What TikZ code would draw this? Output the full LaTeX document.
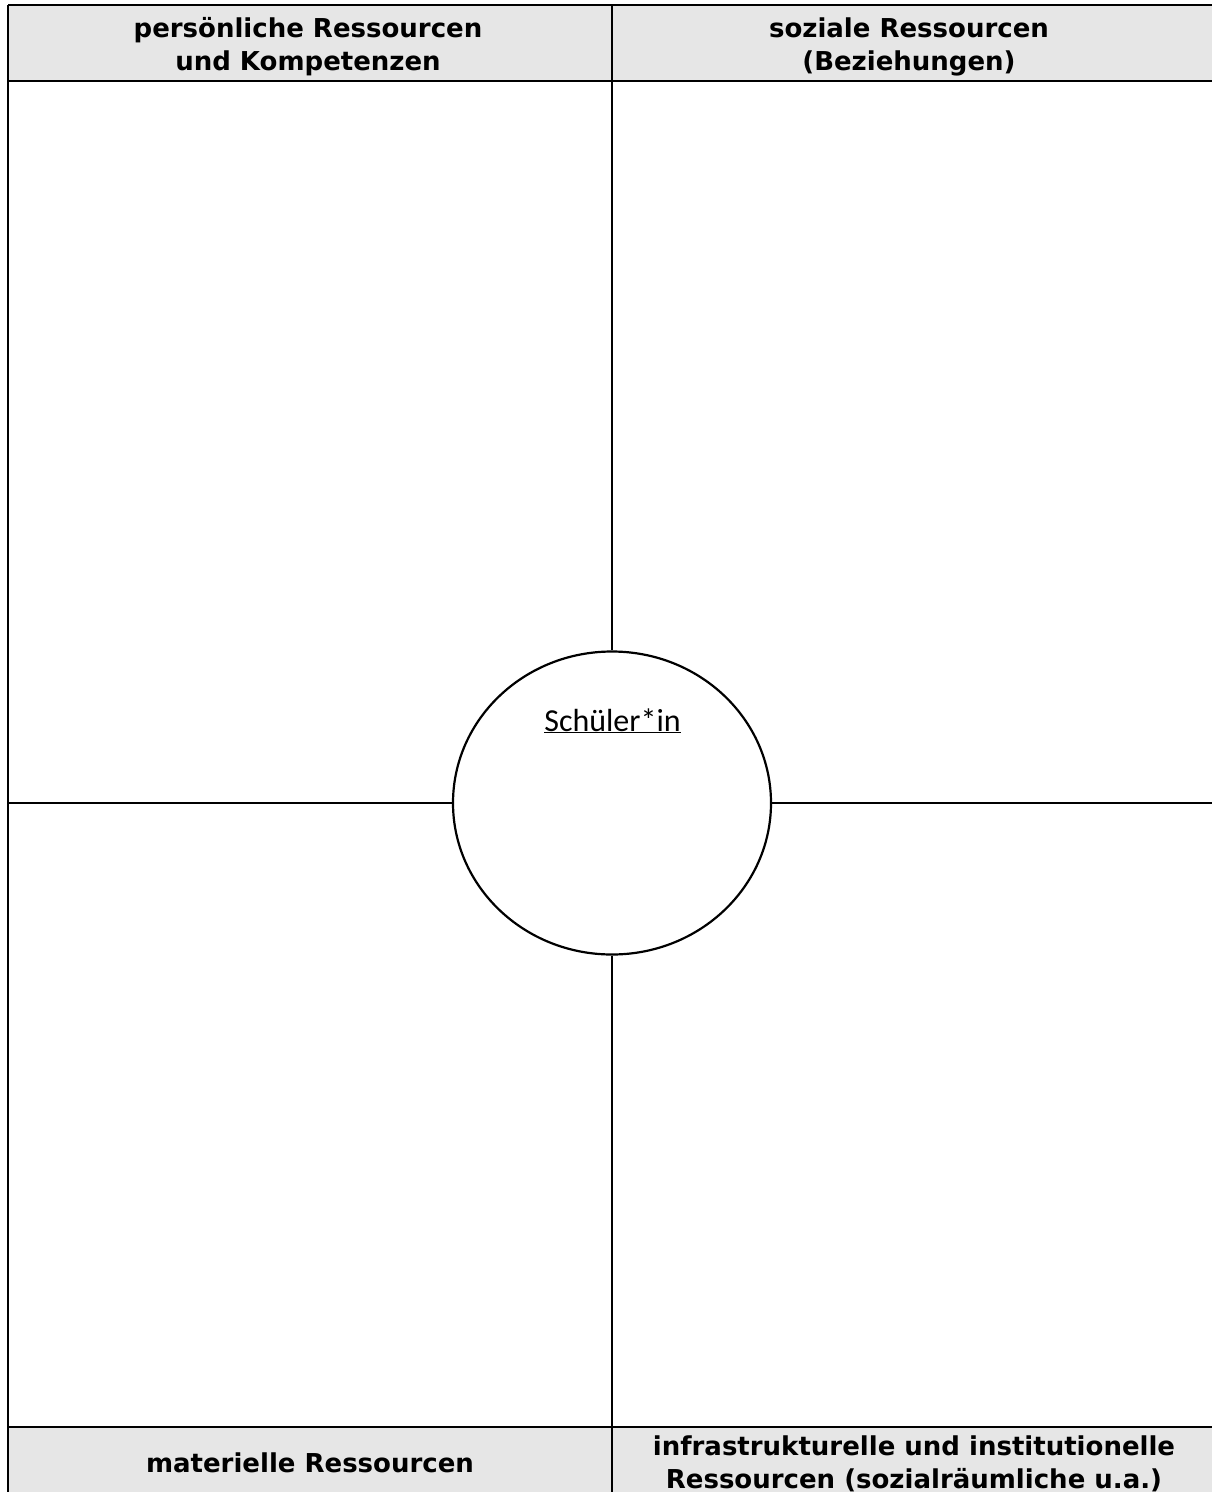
\documentclass[tikz,border=0pt]{standalone}
\usepackage{fontspec}
\setmainfont{DejaVu Sans}
\newfontfamily\calibfont{Carlito}
\usetikzlibrary{shapes.geometric}
\definecolor{hdrgray}{RGB}{230,230,230}
\begin{document}
\begin{tikzpicture}[x=1pt,y=-1pt,
  rule/.style={line width=2.2pt, black},
  headtext/.style={font=\fontsize{26}{33}\selectfont\bfseries, align=center, inner sep=0pt},
  centre/.style={ellipse, draw, line width=2.2pt, fill=white, minimum width=318pt, minimum height=303pt, inner sep=0pt},
]
\useasboundingbox (0,0) rectangle (1212,1492);
% header backgrounds
\fill[hdrgray] (8,5) rectangle (1212,81);
\fill[hdrgray] (8,1427) rectangle (1212,1492);

% frame coordinates
\coordinate (tl) at (8,5);
\coordinate (tr) at (1212,5);
\coordinate (bl) at (8,1492);
\coordinate (hl) at (8,81);
\coordinate (hr) at (1212,81);
\coordinate (fl) at (8,1427);
\coordinate (fr) at (1212,1427);
\coordinate (vt) at (612,5);
\coordinate (vb) at (612,1492);
\coordinate (ml) at (8,803);
\coordinate (mr) at (1212,803);

% centre circle
\node[centre] (c) at (612,803) {};
\node[anchor=base, inner sep=0pt, font=\calibfont\fontsize{32}{36}\selectfont] (st) at (612.5,731) {\underline{Schüler*in}};

% lines
\draw[rule] (tl) -- (bl);
\draw[rule] (tl) -- (tr);
\draw[rule] (hl) -- (hr);
\draw[rule] (fl) -- (fr);
\draw[rule] (vt) -- (c.north);
\draw[rule] (c.south) -- (vb);
\draw[rule] (ml) -- (c.west);
\draw[rule] (c.east) -- (mr);

% header texts
\node[headtext] (h1) at (308,46.7) {persönliche Ressourcen\\und Kompetenzen};
\node[headtext] (h2) at (909,46.7) {soziale Ressourcen\\(Beziehungen)};
\node[headtext, anchor=base] (h3) at (310,1472) {materielle Ressourcen};
\node[headtext] (h4) at (914,1463.5) {infrastrukturelle und institutionelle\\Ressourcen (sozialräumliche u.a.)};
\end{tikzpicture}
\end{document}
